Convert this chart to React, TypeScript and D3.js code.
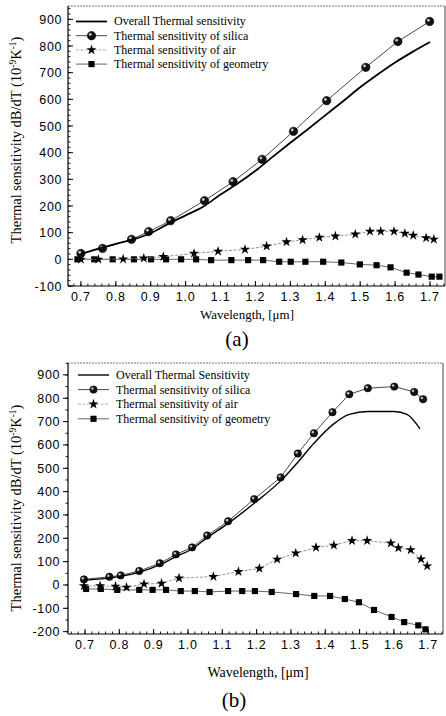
import React from "react";
import * as d3 from "d3";

// ---------- Chart (a) data ----------
const aOverallWl = [0.70, 0.75, 0.80, 0.85, 0.90, 0.95, 1.00, 1.05, 1.10, 1.15, 1.20, 1.25, 1.30, 1.35, 1.40, 1.45, 1.50, 1.55, 1.60, 1.65, 1.70];
const aOverall = [20, 40, 58, 75, 98, 133, 165, 197, 243, 285, 332, 385, 437, 488, 540, 592, 645, 693, 738, 778, 815];

const aSilicaWl = [0.700, 0.762, 0.845, 0.894, 0.957, 1.054, 1.136, 1.219, 1.309, 1.404, 1.516, 1.608, 1.699];
const aSilica = [22, 41, 75, 104, 145, 220, 291, 375, 480, 595, 720, 817, 892];

const aAirWl = [0.700, 0.750, 0.821, 0.880, 0.936, 1.024, 1.093, 1.170, 1.232, 1.289, 1.335, 1.383, 1.429, 1.486, 1.528, 1.559, 1.597, 1.628, 1.652, 1.689, 1.711];
const aAir = [0, 0, 1, 4, 10, 22, 30, 37, 49, 65, 73, 82, 87, 94, 105, 105, 105, 97, 90, 80, 75];

const aGeomWl = [0.690, 0.738, 0.791, 0.852, 0.901, 0.944, 0.987, 1.030, 1.073, 1.131, 1.179, 1.222, 1.268, 1.301, 1.343, 1.394, 1.446, 1.499, 1.547, 1.587, 1.633, 1.667, 1.705, 1.727];
const aGeom = [0, 0, 0, 0, 0, 0, 0, 0, -3, -3, -3, -3, -9, -9, -9, -9, -12, -19, -22, -30, -50, -57, -65, -65];

const aLegend = [
  "Overall Thermal sensitivity",
  "Thermal sensitivity of silica",
  "Thermal sensitivity of air",
  "Thermal sensitivity of geometry",
];

// ---------- Chart (b) data ----------
const bOverallWl = [0.697, 0.75, 0.80, 0.86, 0.92, 0.965, 1.011, 1.056, 1.117, 1.193, 1.270, 1.320, 1.367, 1.421, 1.470, 1.524, 1.601, 1.638, 1.676];
const bOverall = [21, 26, 36, 55, 88, 122, 153, 203, 264, 350, 446, 526, 607, 686, 731, 743, 743, 731, 669];

const bSilicaWl = [0.697, 0.771, 0.804, 0.858, 0.918, 0.965, 1.012, 1.056, 1.117, 1.193, 1.270, 1.320, 1.367, 1.421, 1.470, 1.524, 1.601, 1.659, 1.685];
const bSilica = [24, 35, 41, 60, 93, 131, 161, 212, 273, 368, 461, 563, 650, 740, 817, 843, 850, 827, 796];

const bAirWl = [0.697, 0.744, 0.789, 0.821, 0.872, 0.923, 0.974, 1.074, 1.147, 1.208, 1.260, 1.314, 1.373, 1.425, 1.478, 1.522, 1.591, 1.613, 1.649, 1.679, 1.697];
const bAir = [-4, -4, -6, -10, 4, 7, 29, 36, 57, 71, 110, 136, 161, 170, 190, 190, 179, 159, 150, 111, 81];

const bGeomWl = [0.703, 0.746, 0.794, 0.858, 0.897, 0.936, 0.979, 1.020, 1.063, 1.117, 1.158, 1.195, 1.244, 1.315, 1.368, 1.414, 1.457, 1.498, 1.542, 1.593, 1.630, 1.671, 1.692];
const bGeom = [-17, -17, -21, -21, -21, -21, -26, -26, -30, -26, -26, -26, -30, -39, -47, -47, -60, -74, -107, -137, -159, -173, -190];

const bLegend = [
  "Overall Thermal Sensitivity",
  "Thermal sensitivity of silica",
  "Thermal sensitivity of air",
  "Thermal sensitivity of geometry",
];

const xMajorTicks = [0.7, 0.8, 0.9, 1.0, 1.1, 1.2, 1.3, 1.4, 1.5, 1.6, 1.7];
const aYTicks = [-100, 0, 100, 200, 300, 400, 500, 600, 700, 800, 900];
const bYTicks = [-200, -100, 0, 100, 200, 300, 400, 500, 600, 700, 800, 900];

const SERIF = "'Liberation Serif', 'Times New Roman', serif";
const SANS = "'Liberation Sans', Arial, sans-serif";

type Pt = [number, number];
const zip = (xs: number[], ys: number[]): Pt[] => xs.map((x, i) => [x, ys[i]]);

function Ball({ x, y, r = 4.2 }: { x: number; y: number; r?: number }) {
  return (
    <g>
      <circle cx={x} cy={y} r={r} fill="#111" stroke="#000" strokeWidth={0.6} />
      <circle cx={x - r * 0.3} cy={y - r * 0.3} r={r * 0.35} fill="#bbb" />
    </g>
  );
}

const starPath = d3.symbol().type(d3.symbolStar).size(32)() as string;
const squarePath = d3.symbol().type(d3.symbolSquare).size(38)() as string;

interface ChartProps {
  left: number; right: number; top: number; bottom: number;
  xDomain: [number, number]; yDomain: [number, number];
  yTicks: number[]; yMinorStep: number; yTickOut: boolean;
  overall: Pt[]; silica: Pt[]; air: Pt[]; geom: Pt[];
  legend: string[]; legendX: number; legendY: number; legendDy: number; legendFont: number;
  ylabelX: number; ylabelY: number; ylabelFont: number;
  xlabelX: number; xlabelY: number; xlabelFont: number;
  tagText: string; tagX: number; tagY: number;
  overallWidth: number; ballR: number;
  drawRight: boolean;
}

function Chart(p: ChartProps) {
  const x = d3.scaleLinear().domain(p.xDomain).range([p.left, p.right]);
  const y = d3.scaleLinear().domain(p.yDomain).range([p.bottom, p.top]);
  const smooth = d3.line<Pt>().x(d => x(d[0])).y(d => y(d[1])).curve(d3.curveMonotoneX);
  const straight = d3.line<Pt>().x(d => x(d[0])).y(d => y(d[1]));

  const xMinor = d3.range(Math.ceil(p.xDomain[0] / 0.02) * 0.02, p.xDomain[1], 0.02);
  const yMinor = d3.range(Math.ceil(p.yDomain[0] / p.yMinorStep) * p.yMinorStep, p.yDomain[1], p.yMinorStep);

  const tickDir = p.yTickOut ? -1 : 1;
  const lx0 = p.legendX, lx1 = p.legendX + 31, lxm = (lx0 + lx1) / 2;
  const lt = lx1 + 7;

  return (
    <g>
      {/* frame */}
      <line x1={p.left} x2={p.right} y1={p.top} y2={p.top} stroke="#777" strokeWidth={1} strokeDasharray="2,1" />
      {p.drawRight && <line x1={p.right} x2={p.right} y1={p.top} y2={p.bottom} stroke="#444" strokeWidth={1} />}
      <line x1={p.left} x2={p.left} y1={p.top} y2={p.bottom} stroke="#000" strokeWidth={1.2} />
      <line x1={p.left} x2={p.right} y1={p.bottom} y2={p.bottom} stroke="#000" strokeWidth={1.2} />

      {/* y ticks */}
      {yMinor.map((v, i) => (
        <line key={"ym" + i} x1={p.left} x2={p.left + tickDir * 2.5} y1={y(v)} y2={y(v)} stroke="#000" strokeWidth={0.9} />
      ))}
      {p.yTicks.map(v => (
        <g key={"y" + v}>
          <line x1={p.left} x2={p.left + tickDir * 5} y1={y(v)} y2={y(v)} stroke="#000" strokeWidth={1} />
          <text x={p.left - (p.yTickOut ? 8 : 6)} y={y(v)} dy="0.36em" textAnchor="end" fontFamily={SANS} fontSize={12.5} letterSpacing={0.6} fill="#000">{v}</text>
        </g>
      ))}

      {/* x ticks */}
      {xMinor.map((v, i) => (
        <line key={"xm" + i} x1={x(v)} x2={x(v)} y1={p.bottom} y2={p.bottom - 2.5} stroke="#000" strokeWidth={0.9} />
      ))}
      {xMajorTicks.map(v => (
        <g key={"x" + v}>
          <line x1={x(v)} x2={x(v)} y1={p.bottom} y2={p.bottom - 5} stroke="#000" strokeWidth={1} />
          <text x={x(v)} y={p.bottom + 15} textAnchor="middle" fontFamily={SANS} fontSize={12.5} letterSpacing={0.8} fill="#000">{v.toFixed(1)}</text>
        </g>
      ))}

      {/* series */}
      <path d={straight(p.geom) as string} fill="none" stroke="#555" strokeWidth={0.9} />
      {p.geom.map((d, i) => (
        <path key={"g" + i} d={squarePath} transform={`translate(${x(d[0])},${y(d[1])})`} fill="#000" />
      ))}
      <path d={straight(p.air) as string} fill="none" stroke="#888" strokeWidth={0.9} strokeDasharray="3,1.5" />
      {p.air.map((d, i) => (
        <path key={"a" + i} d={starPath} transform={`translate(${x(d[0])},${y(d[1])})`} fill="#000" />
      ))}
      <path d={straight(p.silica) as string} fill="none" stroke="#333" strokeWidth={0.9} />
      {p.silica.map((d, i) => <Ball key={"s" + i} x={x(d[0])} y={y(d[1])} r={p.ballR} />)}
      <path d={smooth(p.overall) as string} fill="none" stroke="#000" strokeWidth={p.overallWidth} />

      {/* legend */}
      {p.legend.map((t, i) => {
        const ly = p.legendY + i * p.legendDy;
        return (
          <g key={"l" + i}>
            {i === 0 && <line x1={lx0} x2={lx1} y1={ly} y2={ly} stroke="#000" strokeWidth={p.overallWidth} />}
            {i === 1 && <><line x1={lx0} x2={lx1} y1={ly} y2={ly} stroke="#333" strokeWidth={0.9} /><Ball x={lxm} y={ly} r={p.ballR} /></>}
            {i === 2 && <><line x1={lx0} x2={lx1} y1={ly} y2={ly} stroke="#aaa" strokeWidth={0.9} strokeDasharray="3,1.5" /><path d={starPath} transform={`translate(${lxm},${ly})`} fill="#000" /></>}
            {i === 3 && <><line x1={lx0} x2={lx1} y1={ly} y2={ly} stroke="#555" strokeWidth={0.9} /><path d={squarePath} transform={`translate(${lxm},${ly})`} fill="#000" /></>}
            <text x={lt} y={ly} dy="0.33em" fontFamily={SERIF} fontSize={p.legendFont} fill="#000">{t}</text>
          </g>
        );
      })}

      {/* axis labels */}
      <text transform={`translate(${p.ylabelX},${p.ylabelY}) rotate(-90)`} textAnchor="middle" fontFamily={SERIF} fontSize={p.ylabelFont} fill="#000">
        Thermal sensitivity dB/dT (10<tspan dy={-5} fontSize={p.ylabelFont * 0.65}>-9</tspan><tspan dy={5}>K</tspan><tspan dy={-5} fontSize={p.ylabelFont * 0.65}>-1</tspan><tspan dy={5}>)</tspan>
      </text>
      <text x={p.xlabelX} y={p.xlabelY} textAnchor="middle" fontFamily={SERIF} fontSize={p.xlabelFont} fill="#000">Wavelength, [μm]</text>
      <text x={p.tagX} y={p.tagY} textAnchor="middle" fontFamily={SERIF} fontSize={21} fill="#000">{p.tagText}</text>
    </g>
  );
}

export default function App() {
  return (
    <svg width={446} height={716} viewBox="0 0 446 716" style={{ position: "absolute", left: 0, top: 0, background: "#fff" }}>
      <rect x={0} y={0} width={446} height={716} fill="#fff" />
      <Chart
        left={68} right={445} top={6} bottom={286}
        xDomain={[0.663, 1.743]} yDomain={[-100, 950]}
        yTicks={aYTicks} yMinorStep={20} yTickOut={false}
        overall={zip(aOverallWl, aOverall)} silica={zip(aSilicaWl, aSilica)}
        air={zip(aAirWl, aAir)} geom={zip(aGeomWl, aGeom)}
        legend={aLegend} legendX={76} legendY={21.5} legendDy={14.2} legendFont={12}
        ylabelX={21} ylabelY={140} ylabelFont={14.5}
        xlabelX={247} xlabelY={319} xlabelFont={13}
        tagText="(a)" tagX={237} tagY={346}
        overallWidth={1.8} ballR={4.2} drawRight={true}
      />
      <Chart
        left={68} right={443} top={363} bottom={634}
        xDomain={[0.6505, 1.743]} yDomain={[-210, 951]}
        yTicks={bYTicks} yMinorStep={50} yTickOut={true}
        overall={zip(bOverallWl, bOverall)} silica={zip(bSilicaWl, bSilica)}
        air={zip(bAirWl, bAir)} geom={zip(bGeomWl, bGeom)}
        legend={bLegend} legendX={78} legendY={375} legendDy={14.6} legendFont={12}
        ylabelX={21} ylabelY={508} ylabelFont={14.5}
        xlabelX={258} xlabelY={677} xlabelFont={14}
        tagText="(b)" tagX={234} tagY={707}
        overallWidth={1.4} ballR={3.7} drawRight={true}
      />
    </svg>
  );
}
